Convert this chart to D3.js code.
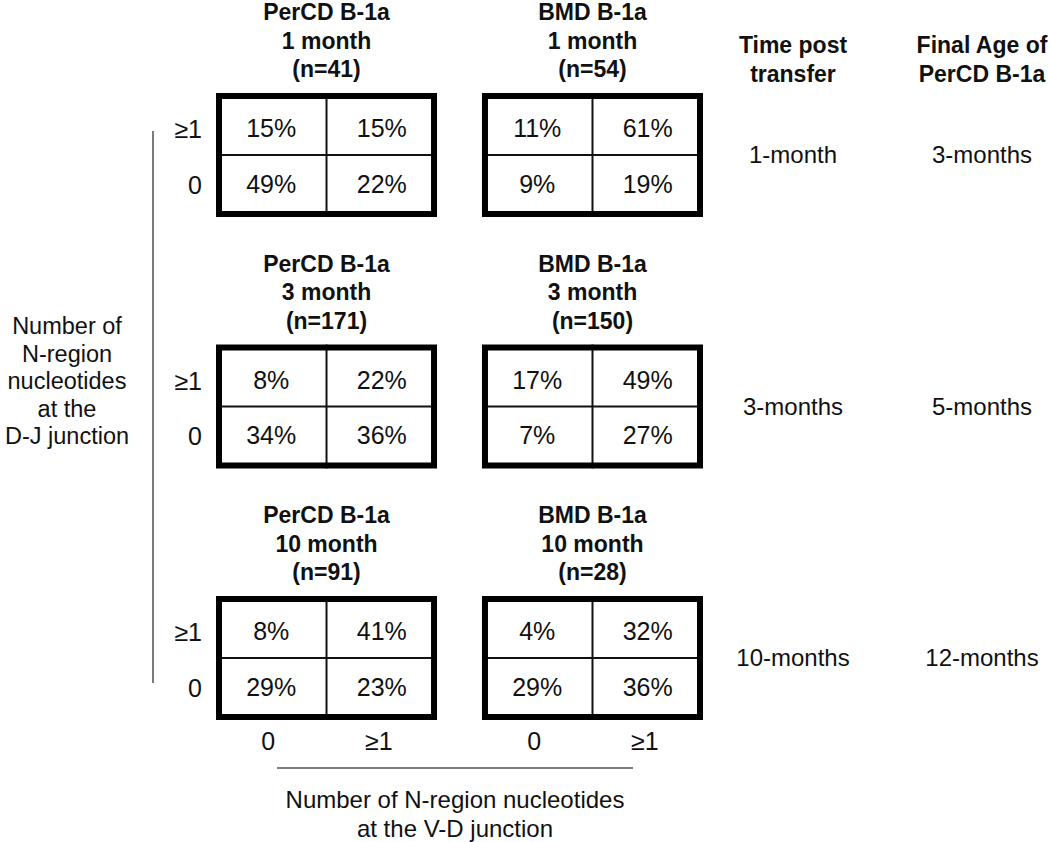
<!DOCTYPE html>
<html>
<head>
<meta charset="utf-8">
<script src="https://cdn.jsdelivr.net/npm/d3@7"></script>
<style>
  html, body { margin: 0; padding: 0; background: #fff; }
  text { font-family: "Liberation Sans", Arial, Helvetica, sans-serif; fill: #111; }
</style>
</head>
<body>
<svg id="chart" width="1050" height="842"></svg>
<script>
// ---- data ----
const groups = ["PerCD B-1a", "BMD B-1a"];
const times = ["1 month", "3 month", "10 month"];
const vdCategories = ["0", "≥1"];      // columns: N-region nt at V-D junction
const djCategories = ["≥1", "0"];      // rows: N-region nt at D-J junction (top to bottom)
const sampleSizes = [
  [41, 54],
  [171, 150],
  [91, 28]
];
// percentages [time][group][row(≥1,0)][col(0,≥1)]
const percent1m = [ [[15, 15], [49, 22]], [[11, 61], [9, 19]] ];
const percent3m = [ [[8, 22], [34, 36]], [[17, 49], [7, 27]] ];
const percent10m = [ [[8, 41], [29, 23]], [[4, 32], [29, 36]] ];
const percents = [percent1m, percent3m, percent10m];
const timePostTransfer = ["1-month", "3-months", "10-months"];
const finalAge = ["3-months", "5-months", "12-months"];

// ---- layout ----
const svg = d3.select("#chart");
const font = 25;

const xGroup = d3.scaleBand().domain(groups).range([216, 703]).paddingInner(0.169).paddingOuter(0);
const yTime = d3.scaleBand().domain(times).range([93, 720]).paddingInner(0.507).paddingOuter(0);
const xCell = d3.scaleBand().domain(vdCategories).range([0, xGroup.bandwidth()]);
const yCell = d3.scaleBand().domain(djCategories).range([0, yTime.bandwidth()]);
const rowTextOffset = { "≥1": 4.5, "0": -2 };

times.forEach((t, ti) => {
  const top = yTime(t);
  groups.forEach((g, gi) => {
    const left = xGroup(g);
    const gEl = svg.append("g").attr("transform", `translate(${left},${top})`);
    // title
    const titleLines = [g, t, `(n=${sampleSizes[ti][gi]})`];
    gEl.selectAll("text.title").data(titleLines).join("text")
      .attr("class", "title")
      .attr("x", xGroup.bandwidth() / 2)
      .attr("y", (d, i) => -73 + i * 28.6)
      .attr("text-anchor", "middle")
      .style("font-weight", "bold")
      .style("font-size", "23px")
      .text(d => d);
    // cells
    const cells = [];
    djCategories.forEach((r, ri) => vdCategories.forEach((c, ci) => {
      cells.push({ r, c, v: percents[ti][gi][ri][ci] });
    }));
    gEl.selectAll("text.pct").data(cells).join("text")
      .attr("class", "pct")
      .attr("x", d => xCell(d.c) + xCell.bandwidth() / 2)
      .attr("y", d => yCell(d.r) + yCell.bandwidth() / 2 + rowTextOffset[d.r])
      .attr("dy", "0.35em")
      .attr("text-anchor", "middle")
      .style("font-size", font + "px")
      .text(d => d.v + "%");
    // inner dividers
    gEl.append("line")
      .attr("x1", xCell("≥1")).attr("x2", xCell("≥1"))
      .attr("y1", 0).attr("y2", yTime.bandwidth())
      .attr("stroke", "#111").attr("stroke-width", 2);
    gEl.append("line")
      .attr("x1", 0).attr("x2", xGroup.bandwidth())
      .attr("y1", yCell("0")).attr("y2", yCell("0"))
      .attr("stroke", "#111").attr("stroke-width", 2);
    // outer border
    gEl.append("rect")
      .attr("x", 3).attr("y", 3)
      .attr("width", xGroup.bandwidth() - 6)
      .attr("height", yTime.bandwidth() - 6)
      .attr("fill", "none").attr("stroke", "#000").attr("stroke-width", 6);
    // row labels (left boxes only)
    if (gi === 0) {
      gEl.selectAll("text.rowlab").data(djCategories).join("text")
        .attr("class", "rowlab")
        .attr("x", -14)
        .attr("y", d => yCell(d) + yCell.bandwidth() / 2 + rowTextOffset[d] + 1)
        .attr("dy", "0.35em")
        .attr("text-anchor", "end")
        .style("font-size", font + "px")
        .text(d => d);
    }
    // column labels (bottom row only)
    if (ti === times.length - 1) {
      gEl.selectAll("text.collab").data(vdCategories).join("text")
        .attr("class", "collab")
        .attr("x", d => xCell(d) + xCell.bandwidth() / 2 - 3)
        .attr("y", yTime.bandwidth() + 30)
        .attr("text-anchor", "middle")
        .style("font-size", font + "px")
        .text(d => d);
    }
  });
  // right columns
  const cy = top + yTime.bandwidth() / 2;
  svg.append("text").attr("x", 793).attr("y", cy + 8).attr("text-anchor", "middle")
    .style("font-size", "24px").text(timePostTransfer[ti]);
  svg.append("text").attr("x", 982).attr("y", cy + 8).attr("text-anchor", "middle")
    .style("font-size", "24px").text(finalAge[ti]);
});

// right headers
[["Time post", "transfer", 793], ["Final Age of", "PerCD B-1a", 982]].forEach(h => {
  svg.selectAll(null).data([h[0], h[1]]).join("text")
    .attr("x", h[2]).attr("y", (d, i) => 53 + i * 28.5)
    .attr("text-anchor", "middle")
    .style("font-weight", "bold").style("font-size", "23px")
    .text(d => d);
});

// left axis line + label
svg.append("line").attr("x1", 153).attr("x2", 153).attr("y1", 131).attr("y2", 683)
  .attr("stroke", "#333").attr("stroke-width", 1.3);
const leftLabel = ["Number of", "N-region", "nucleotides", "at the", "D-J junction"];
svg.selectAll("text.leftlab").data(leftLabel).join("text")
  .attr("class", "leftlab")
  .attr("x", 67).attr("y", (d, i) => 334 + i * 27.5)
  .attr("text-anchor", "middle")
  .style("font-size", "23.5px")
  .text(d => d);

// bottom axis line + label
svg.append("line").attr("x1", 277).attr("x2", 633).attr("y1", 768).attr("y2", 768)
  .attr("stroke", "#555").attr("stroke-width", 1.3);
const bottomLabel = ["Number of N-region nucleotides", "at the V-D junction"];
svg.selectAll("text.botlab").data(bottomLabel).join("text")
  .attr("class", "botlab")
  .attr("x", 455).attr("y", (d, i) => 808 + i * 28.5)
  .attr("text-anchor", "middle")
  .style("font-size", "24px")
  .text(d => d);
</script>
</body>
</html>
